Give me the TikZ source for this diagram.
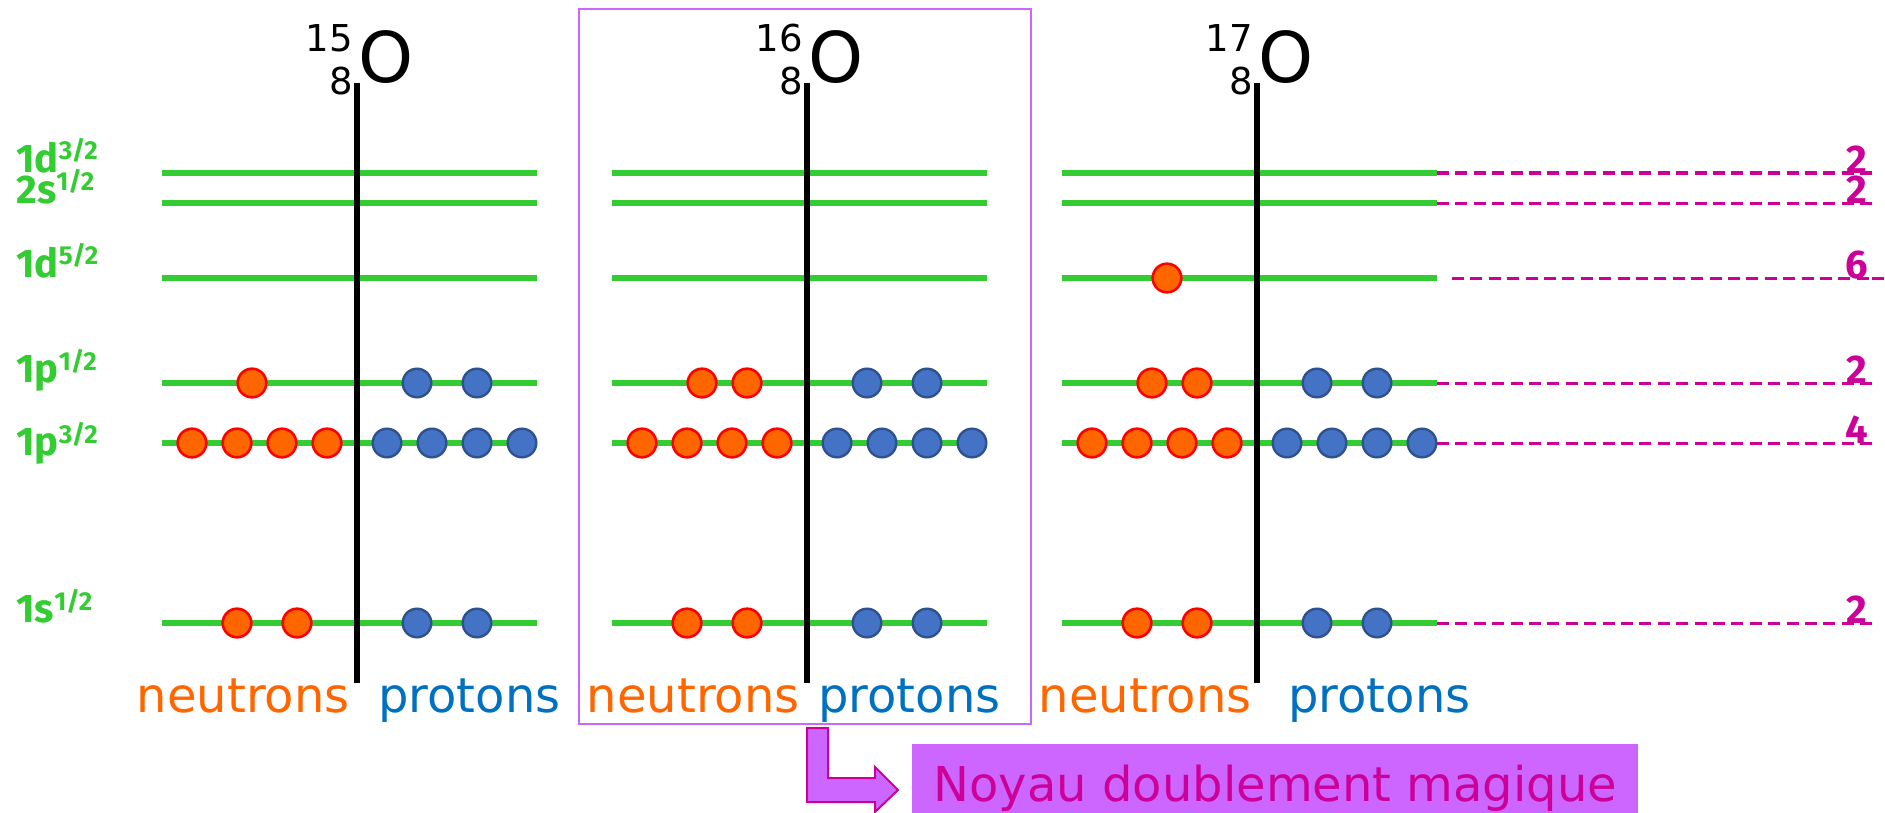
\documentclass[tikz,border=0pt]{standalone}
\usepackage{fontspec}
\setmainfont{DejaVu Sans}
\newfontfamily\levelfont{Fira Sans}
\usetikzlibrary{positioning}
\definecolor{cLevel}{HTML}{33CC33}
\definecolor{cNeutron}{HTML}{FF6600}
\definecolor{cNeutronEdge}{HTML}{FF0000}
\definecolor{cProton}{HTML}{4472C4}
\definecolor{cProtonEdge}{HTML}{2F528F}
\definecolor{cProtonText}{HTML}{0070C0}
\definecolor{cMagic}{HTML}{CC0099}
\definecolor{cFrame}{HTML}{CC66FF}

% orbital name with its j as a small raised fraction
\newcommand\orb[2]{#1\raisebox{6pt}{\fontsize{13}{13}\selectfont #2}}

\begin{document}
\begin{tikzpicture}[
    x=0.5pt, y=-0.5pt,
    level/.style={draw=cLevel, line width=3pt},
    axis/.style={draw=black, line width=3pt},
    neu/.style={circle, draw=cNeutronEdge, fill=cNeutron, line width=1.3pt, minimum size=14.3pt, inner sep=0pt},
    pro/.style={circle, draw=cProtonEdge, fill=cProton, line width=1.2pt, minimum size=14.3pt, inner sep=0pt},
    guide/.style={draw=cMagic, line width=1.5pt, dash pattern=on 6pt off 3.2pt},
    lbl/.style={text=cLevel, font=\levelfont\bfseries\fontsize{20}{20}\selectfont, anchor=base west, inner sep=0pt},
    cnt/.style={text=cMagic, font=\levelfont\bfseries\fontsize{20}{20}\selectfont, anchor=base, inner sep=0pt},
    nuc/.style={font=\fontsize{35}{35}\selectfont, anchor=base west, inner sep=0pt},
    iso/.style={font=\fontsize{18.5}{18.5}\selectfont, anchor=base east, inner sep=0pt},
    ntxt/.style={text=cNeutron, font=\fontsize{24}{24}\selectfont, anchor=base east, inner sep=0pt},
    ptxt/.style={text=cProtonText, font=\fontsize{24}{24}\selectfont, anchor=base west, inner sep=0pt},
    frame/.style={draw=cFrame, line width=1.15pt, inner sep=0pt},
    magic/.style={fill=cFrame, text=cMagic, font=\fontsize{24}{24}\selectfont, inner sep=0pt,
                  minimum width=363pt, minimum height=34.5pt, text height=23.5pt, text depth=0pt},
    blockarr/.style={fill=cFrame, draw=cMagic, line width=1pt, line join=miter}
]
\useasboundingbox (0,0) rectangle (1885,813);

% box around the doubly magic nucleus
\node[frame, minimum width=226pt, minimum height=357.5pt, anchor=north west] (frame16) at (578,8) {};

% shells, axis and nucleons of each isotope
\foreach \p/\vx/\A in {a/357/15, b/807/16, c/1257/17}{
  \foreach \ly in {173,203,278,383,443,623}
    \draw[level] (\vx-195,\ly) -- (\vx+180,\ly);
  \draw[axis] (\vx,83) -- (\vx,683);
  \node[nuc] (\p-sym) at (\vx+1,83) {O};
  \node[iso] (\p-mass) at (\vx-4,52) {\A};
  \node[iso] (\p-z) at (\vx-4,95) {8};
  % 1p3/2 and 1s1/2 are full everywhere
  \foreach \dx [count=\i] in {-165,-120,-75,-30}
    \node[neu] (\p-n3-\i) at (\vx+\dx,443) {};
  \foreach \dx [count=\i] in {30,75,120,165}
    \node[pro] (\p-p3-\i) at (\vx+\dx,443) {};
  \foreach \dx [count=\i] in {-120,-60}
    \node[neu] (\p-ns-\i) at (\vx+\dx,623) {};
  \foreach \dx [count=\i] in {60,120}{
    \node[pro] (\p-ps-\i) at (\vx+\dx,623) {};
    \node[pro] (\p-p1-\i) at (\vx+\dx,383) {};
  }
  \node[neu] (\p-n1-1) at (\vx-105,383) {};
}
\node[neu] (b-n1-2) at (747,383) {};
\node[neu] (c-n1-2) at (1197,383) {};
\node[neu] (c-nd-1) at (1167,278) {};

% orbital names
\node[lbl] (l-d3) at (16,172) {\orb{1d}{3/2}};
\node[lbl] (l-s2) at (16,203) {\orb{2s}{1/2}};
\node[lbl] (l-d5) at (16,277) {\orb{1d}{5/2}};
\node[lbl] (l-p1) at (16,382) {\orb{1p}{1/2}};
\node[lbl] (l-p3) at (16,455) {\orb{1p}{3/2}};
\node[lbl] (l-s1) at (16,622) {\orb{1s}{1/2}};

% occupancy of each shell
\foreach \ly/\xs/\num in {173/1437/2, 203/1437/2, 278/1452/6, 383/1437/2, 443/1437/4, 623/1437/2}{
  \coordinate (g\ly) at (\xs,\ly);
  \coordinate (h\ly) at (1872,\ly);
  \draw[guide] (g\ly) -- (h\ly);
  \node[cnt] (c\ly) at (1857,\ly) {\num};
}
\draw[guide] (h278) -- ++(13,0);

% bottom captions
\node[ntxt] (a-ntxt) at (350,712) {neutrons};
\node[ptxt] (a-ptxt) at (378,712) {protons};
\node[ntxt] (b-ntxt) at (800,712) {neutrons};
\node[ptxt] (b-ptxt) at (818,712) {protons};
\node[ntxt] (c-ntxt) at (1252,712) {neutrons};
\node[ptxt] (c-ptxt) at (1288,712) {protons};

\node[magic, anchor=south west] (magic) at (912,813) {Noyau doublement magique};

\draw[blockarr] (807,728) -- (807,802) -- (875,802) -- (875,812) -- (898,790)
  -- (875,767) -- (875,778) -- (828,778) -- (828,728) -- cycle;

\end{tikzpicture}
\end{document}
